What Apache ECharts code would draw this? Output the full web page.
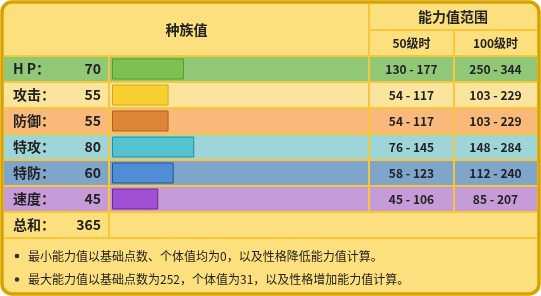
<!DOCTYPE html>
<html>
<head>
<meta charset="utf-8">
<script src="https://cdn.jsdelivr.net/npm/echarts@6/dist/echarts.min.js"></script>
<style>
  html, body { margin: 0; padding: 0; background: #fff; }
  #main { width: 541px; height: 296px; }
</style>
</head>
<body>
<div id="main"></div>
<script>
// 数据
const statNames = ['H P：', '攻击：', '防御：', '特攻：', '特防：', '速度：'];
const baseStats = [70, 55, 55, 80, 60, 45];
const totalName = '总和：';
const totalValue = 365;
const lv50Min = [130, 54, 54, 76, 58, 45];
const lv50Max = [177, 117, 117, 145, 123, 106];
const lv100Min = [250, 103, 103, 148, 112, 85];
const lv100Max = [344, 229, 229, 284, 240, 207];
const headerTexts = ['种族值', '能力值范围', '50级时', '100级时'];
const notes = [
  '最小能力值以基础点数、个体值均为0，以及性格降低能力值计算。',
  '最大能力值以基础点数为252，个体值为31，以及性格增加能力值计算。'
];

// 样式
const FONT = "'Noto Sans CJK SC', 'Noto Sans', sans-serif";
const mainBg = '#FDE07E';
const sepColor = '#F8C637';
const borderColor = '#D8A300';
const rowBg = ['#90C878', '#FBE59E', '#F9B97A', '#9DD5D9', '#7FA5CB', '#C69CD8'];
const barColor = ['#7DC250', '#F9D030', '#DE8638', '#55C2CF', '#4F8ED4', '#A050D2'];
const barBorder = ['#5A9A35', '#D0A820', '#B06020', '#2A8E9C', '#24548E', '#6A2A98'];

const rowTop = 56, rowH = 26, nRows = 7;
const colX = [4, 109, 369, 454, 537];
const tableBottom = rowTop + rowH * nRows;
const rows = statNames.concat([totalName]);

const chart = echarts.init(document.getElementById('main'));

function grid(left, right) {
  return { left: left, top: rowTop, width: right - left, height: rowH * nRows };
}
function hiddenX(idx, max) {
  return { gridIndex: idx, type: 'value', min: 0, max: max, show: false };
}
function hiddenY(idx) {
  return { gridIndex: idx, type: 'category', data: rows, inverse: true, show: false };
}
function bgData(colors, lastColor) {
  return rows.map((r, i) => ({
    value: 1,
    itemStyle: { color: i < 6 ? colors[i] : lastColor }
  }));
}

const rangeLabel = (mins, maxs) => p =>
  p.dataIndex < 6 ? mins[p.dataIndex] + ' - ' + maxs[p.dataIndex] : '';

// 表格分隔线
const lines = [];
for (let i = 0; i <= nRows; i++) {
  const y = rowTop + rowH * i;
  lines.push({ type: 'line', z: 50, shape: { x1: colX[0], y1: y, x2: colX[4], y2: y },
    style: { stroke: sepColor, lineWidth: 2 } });
}
lines.push({ type: 'line', z: 50, shape: { x1: colX[1], y1: rowTop, x2: colX[1], y2: tableBottom },
  style: { stroke: sepColor, lineWidth: 2 } });
lines.push({ type: 'line', z: 50, shape: { x1: colX[2], y1: 4, x2: colX[2], y2: rowTop + rowH * 6 },
  style: { stroke: sepColor, lineWidth: 2 } });
lines.push({ type: 'line', z: 50, shape: { x1: colX[3], y1: 30, x2: colX[3], y2: rowTop + rowH * 6 },
  style: { stroke: sepColor, lineWidth: 2 } });
lines.push({ type: 'line', z: 50, shape: { x1: colX[2], y1: 30, x2: colX[4], y2: 30 },
  style: { stroke: sepColor, lineWidth: 2 } });

const headerStyle = { fill: '#222', fontFamily: FONT, fontWeight: 'bold', align: 'center', verticalAlign: 'middle' };

const graphics = [
  { type: 'rect', z: 0, shape: { x: 2, y: 2, width: 537, height: 292, r: 10 },
    style: { fill: mainBg, stroke: borderColor, lineWidth: 3.5 } },
  ...lines,
  { type: 'text', z: 60, x: (colX[0] + colX[2]) / 2, y: 30,
    style: Object.assign({ text: headerTexts[0], fontSize: 14 }, headerStyle) },
  { type: 'text', z: 60, x: (colX[2] + colX[4]) / 2, y: 17,
    style: Object.assign({ text: headerTexts[1], fontSize: 14 }, headerStyle) },
  { type: 'text', z: 60, x: (colX[2] + colX[3]) / 2, y: 43,
    style: Object.assign({ text: headerTexts[2], fontSize: 12 }, headerStyle) },
  { type: 'text', z: 60, x: (colX[3] + colX[4]) / 2, y: 43,
    style: Object.assign({ text: headerTexts[3], fontSize: 12 }, headerStyle) }
];
notes.forEach((t, i) => {
  const y = 256 + i * 23.5;
  graphics.push({ type: 'circle', z: 60, shape: { cx: 17, cy: y, r: 2.3 }, style: { fill: '#333' } });
  graphics.push({ type: 'text', z: 60, x: 28, y: y,
    style: { text: t, fill: '#222', fontFamily: FONT, fontSize: 12, verticalAlign: 'middle' } });
});

const option = {
  animation: false,
  backgroundColor: '#fff',
  grid: [
    grid(colX[0], colX[1]),
    grid(colX[1], colX[2]),
    grid(112, 367),
    grid(colX[2], colX[3]),
    grid(colX[3], colX[4])
  ],
  xAxis: [hiddenX(0, 1), hiddenX(1, 1), hiddenX(2, 248), hiddenX(3, 1), hiddenX(4, 1)],
  yAxis: [hiddenY(0), hiddenY(1), hiddenY(2), hiddenY(3), hiddenY(4)],
  graphic: graphics,
  series: [
    {
      name: 'label', type: 'bar', xAxisIndex: 0, yAxisIndex: 0, z: 2,
      barCategoryGap: 0, silent: true,
      data: bgData(rowBg, mainBg),
      label: {
        show: true, position: 'insideLeft', distance: 9,
        formatter: p => '{n|' + rows[p.dataIndex] + '}{v|' +
          (p.dataIndex < 6 ? baseStats[p.dataIndex] : totalValue) + '}',
        rich: {
          n: { width: 60, fontSize: 14, fontWeight: 'bold', color: '#222', fontFamily: FONT },
          v: { width: 28, align: 'right', fontSize: 14, fontWeight: 'bold', color: '#222', fontFamily: FONT }
        }
      }
    },
    {
      name: 'barBg', type: 'bar', xAxisIndex: 1, yAxisIndex: 1, z: 2,
      barCategoryGap: 0, silent: true,
      data: bgData(rowBg, mainBg)
    },
    {
      name: '种族值', type: 'bar', xAxisIndex: 2, yAxisIndex: 2, z: 5,
      barWidth: 21, silent: true,
      data: baseStats.map((v, i) => ({
        value: v,
        itemStyle: { color: barColor[i], borderColor: barBorder[i], borderWidth: 1 }
      }))
    },
    {
      name: '50级时', type: 'bar', xAxisIndex: 3, yAxisIndex: 3, z: 2,
      barCategoryGap: 0, silent: true,
      data: bgData(rowBg, mainBg),
      label: {
        show: true, position: 'inside', color: '#222', fontSize: 12, fontWeight: 'bold', fontFamily: FONT,
        formatter: rangeLabel(lv50Min, lv50Max)
      }
    },
    {
      name: '100级时', type: 'bar', xAxisIndex: 4, yAxisIndex: 4, z: 2,
      barCategoryGap: 0, silent: true,
      data: bgData(rowBg, mainBg),
      label: {
        show: true, position: 'inside', color: '#222', fontSize: 12, fontWeight: 'bold', fontFamily: FONT,
        formatter: rangeLabel(lv100Min, lv100Max)
      }
    }
  ]
};

chart.setOption(option);
</script>
</body>
</html>
